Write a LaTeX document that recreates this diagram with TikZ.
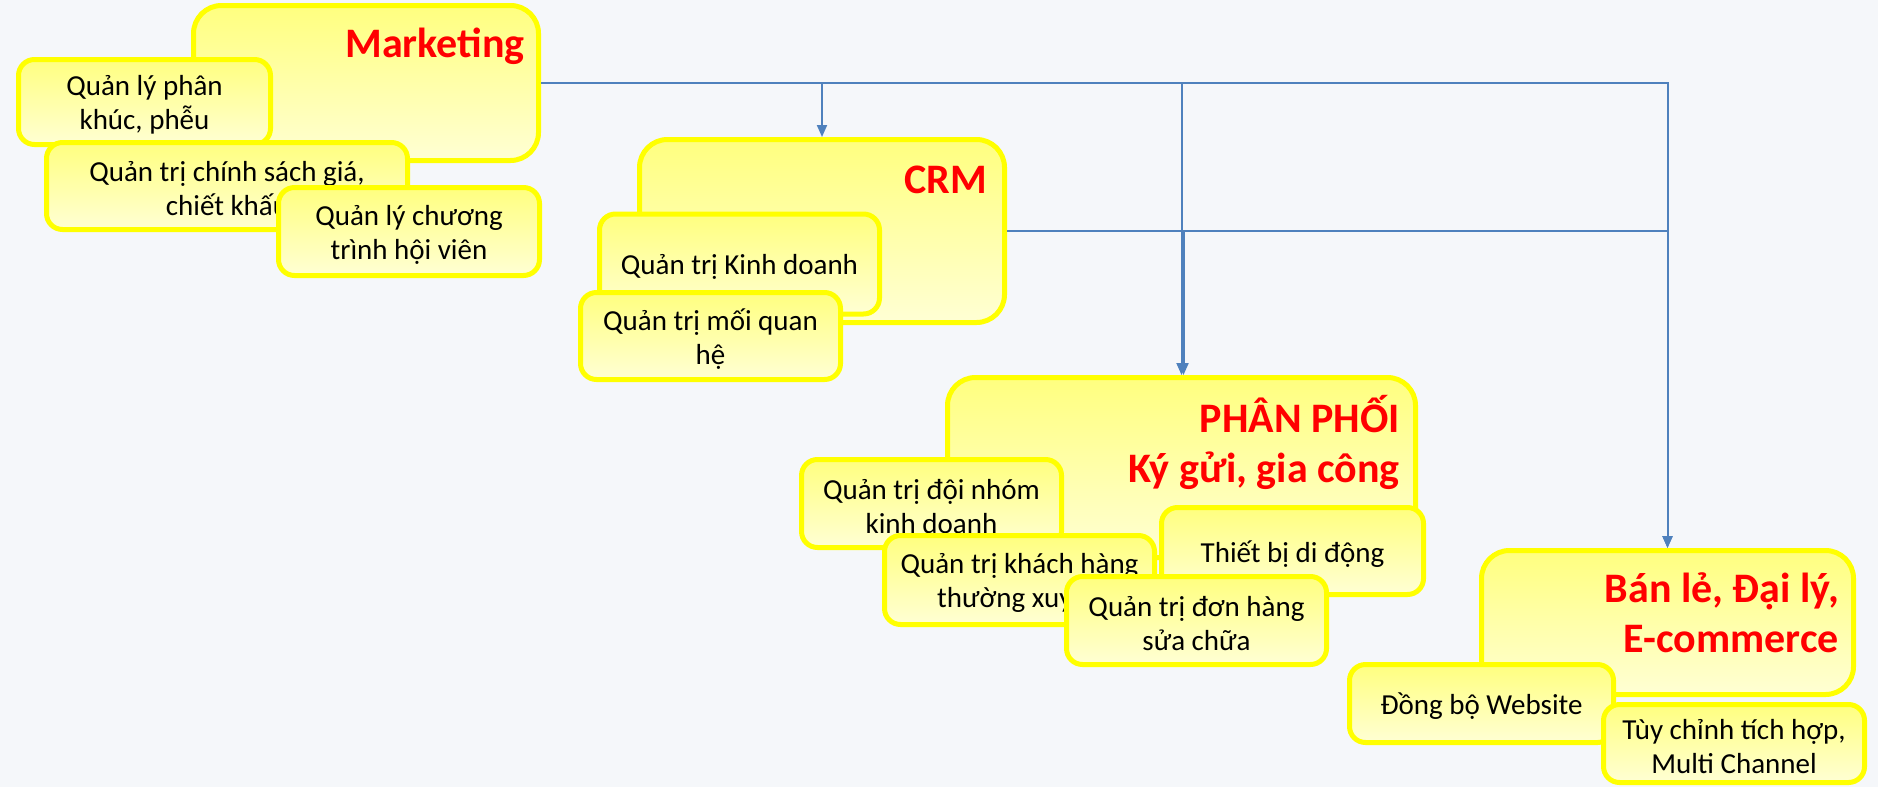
\documentclass[tikz,border=0pt]{standalone}
\usepackage{fontspec}
\setmainfont{Carlito}
\usetikzlibrary{arrows.meta}

\definecolor{pagebg}{HTML}{F5F7FA}
\definecolor{boxline}{HTML}{FFFF00}
\definecolor{boxtop}{HTML}{FFFF7F}
\definecolor{boxbot}{HTML}{FFFFD4}
\definecolor{titlered}{HTML}{FF0000}
\definecolor{linkblue}{HTML}{4F81BD}

\tikzset{
  panel/.style={draw=boxline, line width=5pt, rounded corners=28pt,
    top color=boxtop, bottom color=boxbot, inner sep=0pt},
  leaf/.style={draw=boxline, line width=5pt, rounded corners=16pt,
    top color=boxtop, bottom color=boxbot, inner sep=0pt},
  leaftext/.style={align=center, inner sep=0pt, yshift=-3pt,
    font=\fontsize{29pt}{34pt}\selectfont},
  headline/.style={anchor=base east, inner sep=0pt, text=titlered,
    font=\fontsize{42pt}{50pt}\selectfont\bfseries},
  link/.style={draw=linkblue, line width=2pt,
    -{Triangle[length=12pt,width=10pt]}},
  % outer width and height of a box, line included
  boxwh/.style 2 args={minimum width=#1pt-5pt, minimum height=#2pt-5pt}
}

\begin{document}
\begin{tikzpicture}[x=1pt,y=-1pt]
  \fill[pagebg] (0,0) rectangle (1878,787);
  \useasboundingbox (0,0) rectangle (1878,787);

  % Marketing group
  \node[panel, boxwh={350}{160}] (mkt) at (366,83) {};
  \node[headline] (mktT) at (525,57) {Marketing};
  \node[leaf, boxwh={257}{90}, label={[leaftext]center:{Quản lý phân\\khúc, phễu}}] (seg) at (144.5,102) {};
  \node[leaf, boxwh={366}{92}, label={[leaftext]center:{Quản trị chính sách giá,\\chiết khấu}}] (price) at (227,186) {};
  \node[leaf, boxwh={266}{93}, label={[leaftext]center:{Quản lý chương\\trình hội viên}}] (member) at (409,231.5) {};

  % CRM group
  \node[panel, boxwh={370}{188}] (crm) at (822,231) {};
  \node[headline] (crmT) at (987,193) {CRM};
  \node[leaf, boxwh={285}{105}, label={[leaftext]center:{Quản trị Kinh doanh}}] (sales) at (739.5,264) {};
  \node[leaf, boxwh={265}{92}, label={[leaftext]center:{Quản trị mối quan\\hệ}}] (rel) at (710.5,336) {};

  % Distribution group
  \node[panel, boxwh={473}{185}] (pp) at (1181.5,467.5) {};
  \node[headline] (ppT1) at (1400,432) {PHÂN PHỐI};
  \node[headline] (ppT2) at (1400,482) {Ký gửi, gia công};
  \node[leaf, boxwh={265}{93}, label={[leaftext]center:{Quản trị đội nhóm\\kinh doanh}}] (team) at (931.5,503.5) {};
  \node[leaf, boxwh={275}{94}, label={[leaftext]center:{Quản trị khách hàng\\thường xuyên}}] (regular) at (1019.5,580) {};
  \node[leaf, boxwh={267}{92}, label={[leaftext]center:{Thiết bị di động}}] (mobile) at (1292.5,551) {};
  \node[leaf, boxwh={265}{93}, label={[leaftext]center:{Quản trị đơn hàng\\sửa chữa}}] (repair) at (1196.5,620.5) {};

  % Retail group
  \node[panel, boxwh={377}{149}] (bl) at (1667.5,622.5) {};
  \node[headline] (blT1) at (1839,602) {Bán lẻ, Đại lý,};
  \node[headline] (blT2) at (1839,652) {E-commerce};
  \node[leaf, boxwh={269}{83}, label={[leaftext]center:{Đồng bộ Website}}] (web) at (1481.5,703.5) {};
  \node[leaf, boxwh={266}{83}, label={[leaftext]center:{Tùy chỉnh tích hợp,\\Multi Channel}}] (multi) at (1734,743.5) {};

  % elbow connectors
  \draw[link] (mkt.east) -| (crm.north);
  \draw[link] (mkt.east) -| (pp.north);
  \draw[link] (mkt.east) -| (bl.north);
  \draw[link] (crm.east) -| ([xshift=2pt]pp.north);
  \draw[link] (crm.east) -| (bl.north);
\end{tikzpicture}
\end{document}
